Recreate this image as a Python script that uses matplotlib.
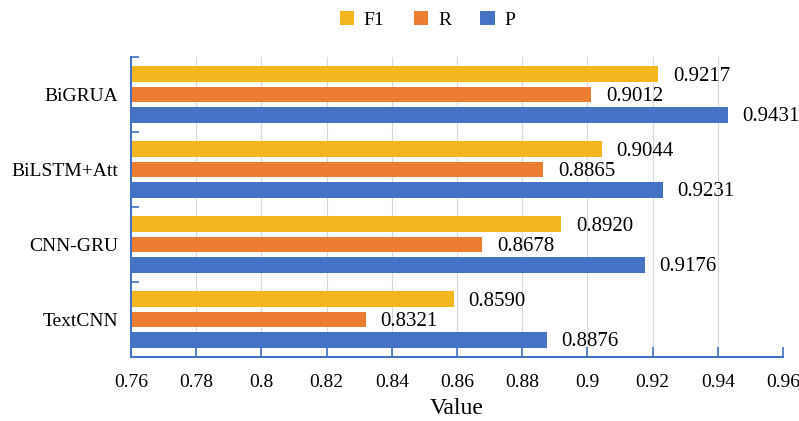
import matplotlib

matplotlib.use("Agg")
import matplotlib.pyplot as plt
from matplotlib.patches import Patch
import numpy as np

plt.rcParams["font.family"] = ["Liberation Serif", "DejaVu Serif"]

models = ["TextCNN", "CNN-GRU", "BiLSTM+Att", "BiGRUA"]
f1_vals = [0.8590, 0.8920, 0.9044, 0.9217]
r_vals = [0.8321, 0.8678, 0.8865, 0.9012]
p_vals = [0.8876, 0.9176, 0.9231, 0.9431]

series = [
    ("F1", f1_vals, "#F2B61F", 0.27),
    ("R", r_vals, "#ED7D31", 0.0),
    ("P", p_vals, "#4472C4", -0.27),
]

x_min, x_max = 0.76, 0.96
bar_h = 0.21
axis_blue = "#4472C4"

fig = plt.figure(figsize=(7.99, 4.21), dpi=100)
ax = fig.add_axes([131 / 799, 64 / 421, 652 / 799, 300 / 421])

y = np.arange(len(models))
for name, vals, color, off in series:
    ax.barh(y + off, np.array(vals) - x_min, left=x_min, height=bar_h,
            color=color, zorder=2)
    for yi, v in zip(y, vals):
        ax.text(v + 0.0045, yi + off - 0.025, f"{v:.4f}", va="center",
                ha="left", fontsize=15, zorder=3)

ax.set_xlim(x_min, x_max)
ax.set_ylim(-0.5, len(models) - 0.5)

xt = np.round(np.arange(x_min, x_max + 0.001, 0.02), 2)
ax.set_xticks(xt)
ax.set_xticklabels([f"{t:g}" for t in xt], fontsize=14)
ax.xaxis.grid(True, color="#D9D9D9", linewidth=0.8, zorder=0)
ax.tick_params(axis="x", direction="in", length=7, width=1.2,
               color=axis_blue, pad=12)

ax.set_yticks(y)
ax.set_yticklabels(models, fontsize=14)
ax.tick_params(axis="y", length=0, pad=9)
ax.set_yticks(np.arange(-0.5, len(models)), minor=True)
ax.tick_params(axis="y", which="minor", direction="in", length=6, width=1.2,
               color=axis_blue)

for side in ("top", "right"):
    ax.spines[side].set_visible(False)
for side in ("left", "bottom"):
    ax.spines[side].set_color(axis_blue)
    ax.spines[side].set_linewidth(1.5)

ax.set_xlabel("Value", fontsize=17, labelpad=5)

handles = [Patch(facecolor=c, label=n) for n, _, c, _ in series]
fig.legend(handles=handles, loc="upper center", bbox_to_anchor=(0.535, 1.015),
           ncol=3, frameon=False, fontsize=14, handlelength=0.75,
           handleheight=0.75, handletextpad=0.5, columnspacing=1.5)

fig.savefig("out.png", dpi=100)
